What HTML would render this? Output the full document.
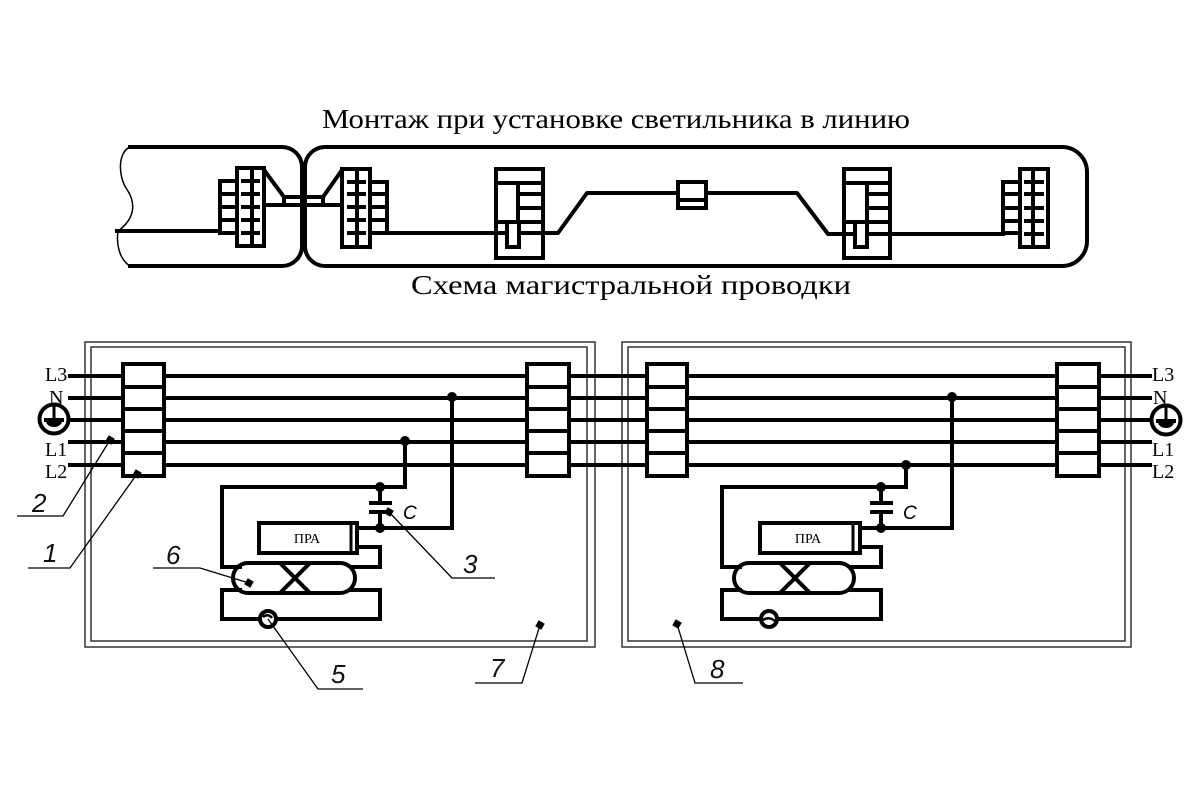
<!DOCTYPE html>
<html><head><meta charset="utf-8"><style>
html,body{margin:0;padding:0;background:#fff;}
svg{display:block;}
.t{stroke:#000;stroke-width:4;fill:none;stroke-linecap:square;}
.f{stroke:#333;stroke-width:1.5;fill:none;}
.l{stroke:#000;stroke-width:1.3;fill:none;}
.num{font-family:"Liberation Sans",sans-serif;font-style:italic;font-size:26px;fill:#111;}
.lab{font-family:"Liberation Serif",serif;font-size:20px;fill:#000;}
</style></head><body>
<svg width="1200" height="800" viewBox="0 0 1200 800" xmlns="http://www.w3.org/2000/svg">
<rect width="1200" height="800" fill="#fff"/>
<!-- Titles -->
<text x="322" y="128" font-family="Liberation Serif, serif" font-size="27" textLength="588" lengthAdjust="spacingAndGlyphs">Монтаж при установке светильника в линию</text>
<text x="411" y="294" font-family="Liberation Serif, serif" font-size="27" textLength="440" lengthAdjust="spacingAndGlyphs">Схема магистральной проводки</text>

<!-- TOP DIAGRAM -->
<path class="t" d="M130,147 H282 A20,20 0 0 1 302,167 V246 A20,20 0 0 1 282,266 H130"/>
<path stroke="#000" stroke-width="1.5" fill="none" d="M130,147 C118,152 118,175 126,188 C136,202 136,218 118,231 C116,245 120,260 130,266"/>
<path class="t" d="M325,147 H1062 A25,25 0 0 1 1087,172 V241 A25,25 0 0 1 1062,266 H325 A20,20 0 0 1 305,246 V167 A20,20 0 0 1 325,147 Z"/>
<line class="t" x1="117" y1="231" x2="220" y2="231"/>
<!-- left terminal -->
<rect class="t" x="220" y="181" width="17" height="52" stroke-width="3.5"/>
<g class="t" stroke-width="3"><line x1="220" y1="194" x2="237" y2="194"/><line x1="220" y1="207" x2="237" y2="207"/><line x1="220" y1="220" x2="237" y2="220"/></g>
<rect class="t" x="237" y="168" width="27" height="78"/>
<line class="t" stroke-width="2.5" x1="252" y1="168" x2="252" y2="246"/>
<g class="t"><line x1="243" y1="181" x2="258" y2="181"/><line x1="243" y1="194" x2="258" y2="194"/><line x1="243" y1="207" x2="258" y2="207"/><line x1="243" y1="220" x2="258" y2="220"/><line x1="243" y1="233" x2="258" y2="233"/></g>
<!-- connector -->
<rect class="t" stroke-width="3" x="284" y="197" width="39" height="8"/>
<g class="t" stroke-width="3.5"><line x1="264" y1="170" x2="284" y2="197"/><line x1="264" y1="205" x2="284" y2="205"/><line x1="323" y1="197" x2="342" y2="170"/><line x1="323" y1="205" x2="342" y2="205"/></g>
<!-- right body left terminal -->
<rect class="t" x="342" y="169" width="28" height="78"/>
<line class="t" stroke-width="2.5" x1="357" y1="169" x2="357" y2="247"/>
<g class="t"><line x1="349" y1="182" x2="364" y2="182"/><line x1="349" y1="194" x2="364" y2="194"/><line x1="349" y1="207" x2="364" y2="207"/><line x1="349" y1="220" x2="364" y2="220"/><line x1="349" y1="233" x2="364" y2="233"/></g>
<rect class="t" stroke-width="3.5" x="370" y="182" width="17" height="51"/>
<g class="t" stroke-width="3"><line x1="370" y1="194" x2="387" y2="194"/><line x1="370" y1="207" x2="387" y2="207"/><line x1="370" y1="220" x2="387" y2="220"/></g>
<!-- wire -->
<polyline class="t" stroke-linejoin="round" points="387,233 558,233 587,193 678,193"/>
<rect class="t" stroke-width="3.5" x="678" y="182" width="28" height="26"/>
<line class="t" stroke-width="3" x1="678" y1="200" x2="706" y2="200"/>
<polyline class="t" stroke-linejoin="round" points="706,193 797,193 828,234 1003,234"/>
<!-- block A -->
<g class="t">
<rect x="496" y="169" width="47" height="89"/>
<line x1="496" y1="183" x2="543" y2="183"/>
<line x1="518" y1="183" x2="518" y2="222"/>
<line x1="518" y1="194" x2="543" y2="194"/>
<line x1="518" y1="208" x2="543" y2="208"/>
<line x1="496" y1="222" x2="543" y2="222"/>
<rect x="507" y="222" width="12" height="25" fill="#fff"/>
</g>
<!-- block B -->
<g class="t">
<rect x="844" y="169" width="46" height="89"/>
<line x1="844" y1="183" x2="890" y2="183"/>
<line x1="867" y1="183" x2="867" y2="222"/>
<line x1="867" y1="194" x2="890" y2="194"/>
<line x1="867" y1="208" x2="890" y2="208"/>
<line x1="844" y1="222" x2="890" y2="222"/>
<rect x="855" y="222" width="12" height="25" fill="#fff"/>
</g>
<!-- right terminal -->
<rect class="t" stroke-width="3.5" x="1003" y="182" width="17" height="51"/>
<g class="t" stroke-width="3"><line x1="1003" y1="194" x2="1020" y2="194"/><line x1="1003" y1="208" x2="1020" y2="208"/><line x1="1003" y1="221" x2="1020" y2="221"/></g>
<rect class="t" x="1020" y="169" width="28" height="78"/>
<line class="t" stroke-width="2.5" x1="1033" y1="169" x2="1033" y2="247"/>
<g class="t"><line x1="1026" y1="182" x2="1042" y2="182"/><line x1="1026" y1="194" x2="1042" y2="194"/><line x1="1026" y1="208" x2="1042" y2="208"/><line x1="1026" y1="221" x2="1042" y2="221"/><line x1="1026" y1="234" x2="1042" y2="234"/></g>

<!-- LOWER DIAGRAM -->
<rect class="f" x="85" y="342" width="510" height="305"/>
<rect class="f" x="91" y="347" width="496" height="294"/>
<rect class="f" x="622" y="342" width="509" height="305"/>
<rect class="f" x="628" y="347" width="497" height="294"/>

<g class="t" stroke-linecap="butt">
<line x1="70" y1="376" x2="1150" y2="376"/>
<line x1="70" y1="398" x2="1150" y2="398"/>
<line x1="68" y1="420" x2="1152" y2="420"/>
<line x1="70" y1="442" x2="1150" y2="442"/>
<line x1="70" y1="465" x2="1150" y2="465"/>
</g>
<!-- terminal blocks -->
<g class="t" fill="#fff">
<rect x="123" y="364" width="41" height="112" fill="#fff"/>
<rect x="527" y="364" width="42" height="112" fill="#fff"/>
<rect x="647" y="364" width="40" height="112" fill="#fff"/>
<rect x="1057" y="364" width="42" height="112" fill="#fff"/>
</g>
<g class="t">
<line x1="123" y1="387" x2="164" y2="387"/><line x1="123" y1="409" x2="164" y2="409"/><line x1="123" y1="431" x2="164" y2="431"/><line x1="123" y1="453" x2="164" y2="453"/>
<line x1="527" y1="387" x2="569" y2="387"/><line x1="527" y1="409" x2="569" y2="409"/><line x1="527" y1="431" x2="569" y2="431"/><line x1="527" y1="453" x2="569" y2="453"/>
<line x1="647" y1="387" x2="687" y2="387"/><line x1="647" y1="409" x2="687" y2="409"/><line x1="647" y1="431" x2="687" y2="431"/><line x1="647" y1="453" x2="687" y2="453"/>
<line x1="1057" y1="387" x2="1099" y2="387"/><line x1="1057" y1="409" x2="1099" y2="409"/><line x1="1057" y1="431" x2="1099" y2="431"/><line x1="1057" y1="453" x2="1099" y2="453"/>
</g>
<!-- ground symbols -->
<g>
<circle cx="54" cy="419" r="14.5" fill="#fff" stroke="#000" stroke-width="4"/>
<line x1="54" y1="406" x2="54" y2="420" stroke="#000" stroke-width="3"/>
<line x1="44" y1="420" x2="64" y2="420" stroke="#000" stroke-width="4"/>
<path d="M46,421 A8,6 0 0 0 62,421 Z" fill="#000"/>
<circle cx="1166" cy="420" r="14.5" fill="#fff" stroke="#000" stroke-width="4"/>
<line x1="1166" y1="407" x2="1166" y2="421" stroke="#000" stroke-width="3"/>
<line x1="1156" y1="421" x2="1176" y2="421" stroke="#000" stroke-width="4"/>
<path d="M1158,422 A8,6 0 0 0 1174,422 Z" fill="#000"/>
</g>
<!-- line labels -->
<text class="lab" x="45" y="381">L3</text>
<text class="lab" x="49" y="404">N</text>
<text class="lab" x="45" y="456">L1</text>
<text class="lab" x="45" y="478">L2</text>
<text class="lab" x="1152" y="381">L3</text>
<text class="lab" x="1153" y="404">N</text>
<text class="lab" x="1152" y="456">L1</text>
<text class="lab" x="1152" y="478">L2</text>

<!-- LEFT CIRCUIT -->
<g class="t" stroke-linejoin="miter">
<polyline points="452,397 452,528 380,528"/>
<polyline points="405,441 405,487 222,487 222,567 240,567"/>
<line x1="380" y1="487" x2="380" y2="503"/>
<line x1="371" y1="503" x2="390" y2="503"/>
<line x1="371" y1="512" x2="390" y2="512"/>
<line x1="380" y1="512" x2="380" y2="528"/>
<rect x="259" y="523" width="98" height="30"/>
<line x1="351" y1="523" x2="351" y2="553" stroke-width="3"/>
<line x1="357" y1="528" x2="380" y2="528"/>
<polyline points="357,547 380,547 380,567 352,567"/>
<rect x="233" y="563" width="122" height="30" rx="15" ry="15"/>
<line x1="282" y1="565" x2="308" y2="591"/>
<line x1="308" y1="565" x2="282" y2="591"/>
<polyline points="240,590 222,590 222,619 380,619 380,590 350,590"/>
</g>
<g fill="#000">
<circle cx="452" cy="397" r="5"/><circle cx="405" cy="441" r="5"/><circle cx="380" cy="487" r="5"/><circle cx="380" cy="528" r="5"/>
</g>
<circle cx="268" cy="619" r="8" fill="#fff" stroke="#000" stroke-width="4"/>
<path d="M263,617 Q268,613 272,618" stroke="#000" stroke-width="2.5" fill="none"/>
<text x="307" y="543" text-anchor="middle" font-family="Liberation Serif, serif" font-size="14">ПРА</text>
<text x="403" y="519" font-family="Liberation Sans, sans-serif" font-style="italic" font-size="19">C</text>

<!-- RIGHT CIRCUIT -->
<g class="t" stroke-linejoin="miter">
<polyline points="952,397 952,528 881,528"/>
<polyline points="906,465 906,487 722,487 722,567 740,567"/>
<line x1="881" y1="487" x2="881" y2="503"/>
<line x1="872" y1="503" x2="891" y2="503"/>
<line x1="872" y1="512" x2="891" y2="512"/>
<line x1="881" y1="512" x2="881" y2="528"/>
<rect x="760" y="523" width="100" height="30"/>
<line x1="853" y1="523" x2="853" y2="553" stroke-width="3"/>
<line x1="860" y1="528" x2="881" y2="528"/>
<polyline points="860,547 881,547 881,567 852,567"/>
<rect x="734" y="563" width="120" height="30" rx="15" ry="15"/>
<line x1="782" y1="565" x2="808" y2="591"/>
<line x1="808" y1="565" x2="782" y2="591"/>
<polyline points="740,590 722,590 722,619 881,619 881,590 850,590"/>
</g>
<g fill="#000">
<circle cx="952" cy="397" r="5"/><circle cx="906" cy="465" r="5"/><circle cx="881" cy="487" r="5"/><circle cx="881" cy="528" r="5"/>
</g>
<circle cx="769" cy="619" r="8" fill="#fff" stroke="#000" stroke-width="4"/>
<path d="M763,620 Q769,616 775,621" stroke="#000" stroke-width="2.5" fill="none"/>
<text x="808" y="543" text-anchor="middle" font-family="Liberation Serif, serif" font-size="14">ПРА</text>
<text x="903" y="519" font-family="Liberation Sans, sans-serif" font-style="italic" font-size="19">C</text>

<!-- LEADERS -->
<polyline class="l" points="110,440 63,516 17,516"/>
<polyline class="l" points="137,474 70,568 28,568"/>
<polyline class="l" points="249,583 200,568 153,568"/>
<polyline class="l" points="389,512 452,578 495,578"/>
<polyline class="l" points="268,619 318,689 363,689"/>
<polyline class="l" points="540,625 522,683 475,683"/>
<polyline class="l" points="677,624 695,683 743,683"/>
<g fill="#000">
<rect x="106.5" y="436.5" width="7" height="7" transform="rotate(30 110 440)"/>
<rect x="133.5" y="470.5" width="7" height="7" transform="rotate(30 137 474)"/>
<rect x="245.5" y="579.5" width="7" height="7" transform="rotate(30 249 583)"/>
<rect x="385.5" y="508.5" width="7" height="7" transform="rotate(30 389 512)"/>
<rect x="536.5" y="621.5" width="7" height="7" transform="rotate(30 540 625)"/>
<rect x="673.5" y="620.5" width="7" height="7" transform="rotate(30 677 624)"/>
</g>
<text class="num" x="32" y="512">2</text>
<text class="num" x="43" y="562">1</text>
<text class="num" x="166" y="564">6</text>
<text class="num" x="463" y="573">3</text>
<text class="num" x="331" y="683">5</text>
<text class="num" x="490" y="677">7</text>
<text class="num" x="710" y="678">8</text>
</svg>
</body></html>
